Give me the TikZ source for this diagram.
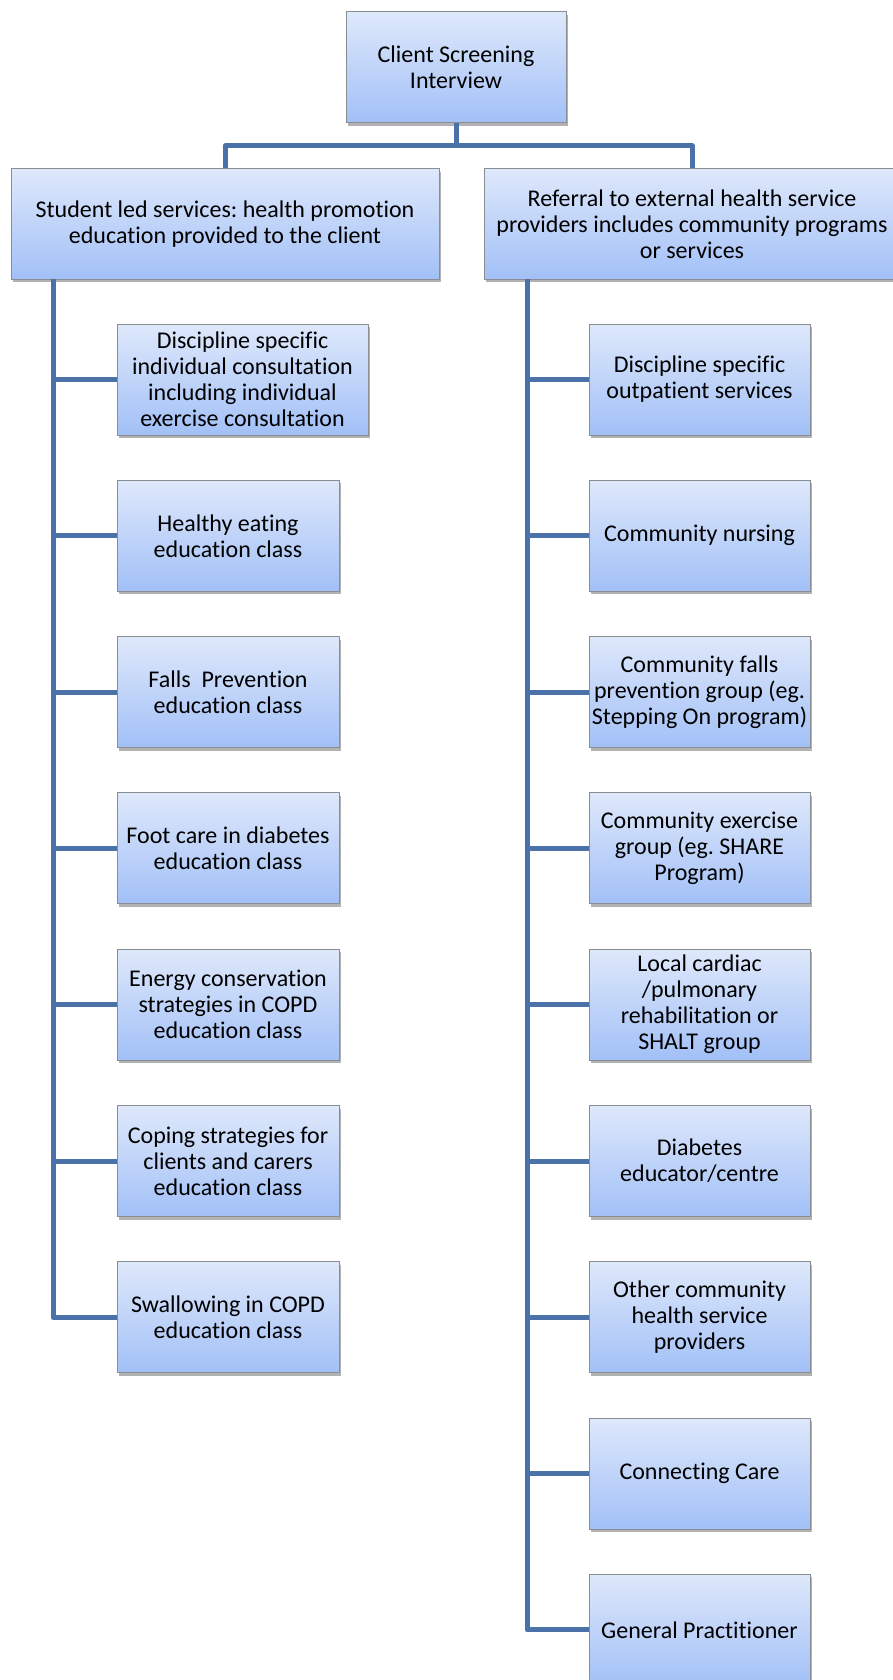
\documentclass[tikz,border=0pt]{standalone}
\usepackage{fontspec}
\setmainfont{Carlito}[Ligatures=NoCommon]
\usepackage{tikz}
\usetikzlibrary{shadows}
\frenchspacing
\definecolor{boxtop}{HTML}{DEE8FB}
\definecolor{boxbot}{HTML}{A2C0F7}
\definecolor{boxedge}{HTML}{8A8D92}
\definecolor{linkblue}{HTML}{4A72A8}

\tikzset{
  cbox/.style={draw=boxedge, line width=1pt, top color=boxtop, bottom color=boxbot,
    align=center, inner sep=0pt, minimum width=222pt, minimum height=111pt,
    font={\fontsize{24}{26}\selectfont},
    drop shadow={shadow xshift=2pt, shadow yshift=-3pt, opacity=0.3, fill=black}},
  link/.style={draw=linkblue, line width=5pt, line join=round}
}

\begin{document}
\begin{tikzpicture}[x=1pt, y=-1pt]
    \useasboundingbox (0,0) rectangle (893,1680);
    \clip (0,0) rectangle (893,1680);
    \fill[white] (0,0) rectangle (893,1680);
    % top level
    \node[cbox, minimum width=220pt] (root) at (456,67.5) {Client Screening\\Interview};
    \node[cbox, minimum width=428pt, minimum height=110pt] (stud) at (225,224) {Student led services: health promotion\\education provided to the client};
    \node[cbox, minimum width=416pt, minimum height=110pt] (refr) at (692,224) {Referral to external health service\\providers includes community programs\\or services};
    \coordinate (bar) at (456,146);
    \coordinate (lspine) at (53,279);
    \coordinate (rspine) at (527,279);
    % student led services
    \node[cbox, minimum width=251pt] (s1) at (242.5,379.5) {Discipline specific\\individual consultation\\including individual\\exercise consultation};
    \node[cbox] (s2) at (228,535.8) {Healthy eating\\education class};
    \node[cbox] (s3) at (228,692.1) {Falls~ Prevention\\education class};
    \node[cbox] (s4) at (228,848.4) {Foot care in diabetes\\education class};
    \node[cbox] (s5) at (228,1004.7) {Energy conservation\\strategies in COPD\\education class};
    \node[cbox] (s6) at (228,1161) {Coping strategies for\\clients and carers\\education class};
    \node[cbox] (s7) at (228,1317.3) {Swallowing in COPD\\education class};
    % referrals
    \node[cbox, minimum width=221pt] (r1) at (699.5,379.5) {Discipline specific\\outpatient services};
    \node[cbox, minimum width=221pt] (r2) at (699.5,535.8) {Community nursing};
    \node[cbox, minimum width=221pt] (r3) at (699.5,692.1) {Community falls\\prevention group (eg.\\Stepping On program)};
    \node[cbox, minimum width=221pt] (r4) at (699.5,848.4) {Community exercise\\group (eg. SHARE\\Program)};
    \node[cbox, minimum width=221pt] (r5) at (699.5,1004.7) {Local cardiac\\/pulmonary\\rehabilitation or\\SHALT group};
    \node[cbox, minimum width=221pt] (r6) at (699.5,1161) {Diabetes\\educator/centre};
    \node[cbox, minimum width=221pt] (r7) at (699.5,1317.3) {Other community\\health service\\providers};
    \node[cbox, minimum width=221pt] (r8) at (699.5,1473.6) {Connecting Care};
    \node[cbox, minimum width=221pt] (r9) at (699.5,1629.9) {General Practitioner};
    % connectors
    \draw[link] (root.south) -- (bar);
    \draw[link] (stud.north) |- (bar) -| (refr.north);
    \draw[link] (lspine) |- (s1.west);
    \draw[link] (lspine) |- (s2.west);
    \draw[link] (lspine) |- (s3.west);
    \draw[link] (lspine) |- (s4.west);
    \draw[link] (lspine) |- (s5.west);
    \draw[link] (lspine) |- (s6.west);
    \draw[link] (lspine) |- (s7.west);
    \draw[link] (rspine) |- (r1.west);
    \draw[link] (rspine) |- (r2.west);
    \draw[link] (rspine) |- (r3.west);
    \draw[link] (rspine) |- (r4.west);
    \draw[link] (rspine) |- (r5.west);
    \draw[link] (rspine) |- (r6.west);
    \draw[link] (rspine) |- (r7.west);
    \draw[link] (rspine) |- (r8.west);
    \draw[link] (rspine) |- (r9.west);
  \end{tikzpicture}
\end{document}
